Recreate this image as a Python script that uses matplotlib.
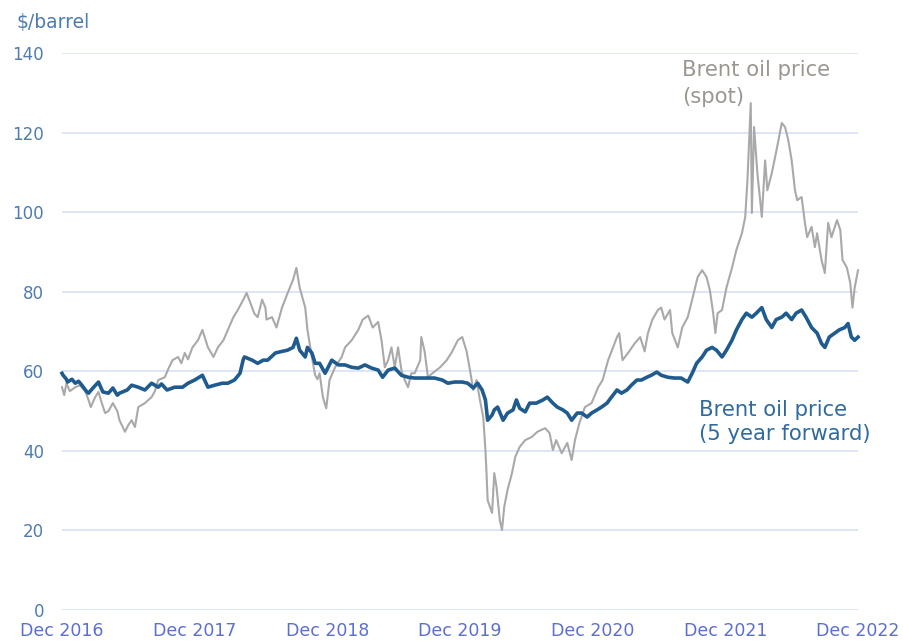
import matplotlib
matplotlib.use("Agg")
import matplotlib.pyplot as plt

# x values: months since Dec 2016
spot_month = [0.0, 0.2, 0.4, 0.7, 1.2, 1.6, 2.1, 2.4, 2.6, 3.0, 3.3, 3.6, 3.9, 4.2, 4.6, 5.0, 5.2, 5.7, 6.0, 6.3,
              6.6, 6.9, 7.5, 8.1, 8.4, 8.7, 9.3, 9.6, 10.0, 10.5, 10.8, 11.1, 11.4, 11.8, 12.3, 12.7, 13.2, 13.7,
              14.1, 14.6, 15.0, 15.5, 15.9, 16.4, 16.7, 17.2, 17.4, 17.7, 18.1, 18.4, 18.5, 19.0, 19.4, 19.9,
              20.4, 20.9, 21.2, 21.5, 22.0, 22.2, 22.6, 22.9, 23.1, 23.3, 23.6, 23.9, 24.2, 24.7, 25.3, 25.6,
              26.2, 26.8, 27.2, 27.7, 28.1, 28.6, 28.9, 29.2, 29.5, 29.8, 30.1, 30.4, 30.7, 31.0, 31.3, 31.6,
              31.9, 32.4, 32.5, 32.8, 33.1, 33.5, 34.2, 34.8, 35.3, 35.8, 36.2, 36.6, 36.9, 37.2, 37.5, 37.8,
              38.1, 38.3, 38.4, 38.5, 38.9, 39.1, 39.3, 39.6, 39.8, 40.0, 40.3, 40.7, 41.0, 41.4, 41.9, 42.5,
              43.0, 43.7, 44.1, 44.4, 44.7, 45.2, 45.7, 46.1, 46.4, 46.8, 47.3, 47.9, 48.5, 48.9, 49.4, 49.7,
              50.2, 50.4, 50.7, 51.2, 51.8, 52.3, 52.7, 53.0, 53.4, 53.9, 54.2, 54.5, 55.0, 55.2, 55.7, 56.1,
              56.6, 57.0, 57.5, 57.9, 58.3, 58.6, 58.9, 59.1, 59.3, 59.7, 60.1, 60.6, 61.0, 61.5, 61.8, 62.0,
              62.3, 62.4, 62.6, 62.9, 63.3, 63.6, 63.8, 64.2, 64.5, 64.8, 65.1, 65.4, 65.7, 66.0, 66.3, 66.5,
              66.9, 67.2, 67.4, 67.8, 68.1, 68.3, 68.7, 69.0, 69.3, 69.6, 70.1, 70.4, 70.6, 71.0, 71.3, 71.5,
              71.7, 72.0]
spot_price = [56, 54, 57, 55, 56, 56.5, 55, 52.8, 51, 53.5, 54.8, 52, 49.5, 50, 52, 50, 47.7, 44.8, 46.5, 47.7,
              46, 51, 52, 53.5, 55, 57.8, 58.5, 60.5, 62.8, 63.6, 62, 64.6, 63, 66, 67.8, 70.4, 66, 63.6,
              66, 67.8, 70.4, 73.6, 75.4, 78, 79.7, 76, 74.5, 73.6, 78, 76, 73, 73.6, 71, 76,
              79.6, 83, 86, 81, 76, 70.4, 63.6, 59, 58, 59.5, 53.5, 50.7, 57.8, 61, 63.6, 66,
              67.8, 70.4, 73, 74, 71, 72.4, 67.8, 61, 62.8, 66, 61, 66, 60.3, 57.8, 56, 59.5,
              59.5, 62.8, 68.6, 65, 58.5, 59.5, 61, 62.8, 65, 67.8, 68.6, 65, 60.3, 55.3, 57.8, 52.8,
              48.5, 40.2, 34.4, 27.6, 24.4, 34.4, 31, 22.6, 20.1, 25.9, 30.2, 34.4, 38.5, 41, 42.7, 43.5,
              44.8, 45.7, 44.5, 40.2, 42.7, 39.4, 42, 37.7, 42.7, 47, 51, 52, 56, 57.8, 62.8, 65,
              68.6, 69.6, 62.8, 64.6, 67, 68.6, 65, 69.6, 73, 75.4, 76, 73, 75.4, 69.6, 66, 71,
              73.6, 78, 83.7, 85.4, 83.7, 80.4, 74.6, 69.6, 74.6, 75.4, 81, 86, 90.5, 94.7, 98.8, 108,
              127.4, 99.8, 121.4, 109.8, 98.8, 113, 105.5, 109.8, 113.8, 118, 122.4, 121.4, 118, 113, 105.5, 103,
              103.8, 97.3, 93.7, 96.3, 91.2, 94.7, 88, 84.7, 97.3, 93.7, 98, 95.5, 88, 86, 82.2, 76,
              81, 85.4]

fwd_month = [0.0, 0.1, 0.4, 0.5, 0.9, 1.2, 1.5, 1.8, 2.2, 2.4, 2.8, 3.3, 3.5, 3.7, 4.2, 4.6, 5.0, 5.2, 5.9, 6.3,
             6.9, 7.5, 8.1, 8.7, 9.0, 9.5, 10.2, 10.9, 11.4, 12.0, 12.7, 13.2, 13.8, 14.5, 15.0, 15.6, 16.1,
             16.4, 16.5, 17.2, 17.7, 18.2, 18.6, 19.3, 19.9, 20.4, 20.9, 21.2, 21.5, 22.0, 22.2, 22.6, 22.9,
             23.3, 23.8, 24.4, 25.0, 25.6, 26.2, 26.8, 27.4, 28.0, 28.6, 29.0, 29.5, 30.1, 30.7, 31.3, 31.9,
             32.5, 33.1, 33.7, 34.4, 34.9, 35.5, 36.2, 36.7, 37.2, 37.6, 38.0, 38.3, 38.5, 38.9, 39.1, 39.4,
             39.9, 40.3, 40.8, 41.1, 41.4, 41.9, 42.3, 42.9, 43.5, 43.9, 44.4, 44.8, 45.3, 45.7, 46.1, 46.6,
             47.0, 47.5, 47.9, 48.4, 48.8, 49.3, 49.7, 50.2, 50.6, 51.1, 51.5, 52.0, 52.4, 52.9, 53.3, 53.8,
             54.2, 54.8, 55.4, 56.0, 56.6, 57.0, 57.4, 57.9, 58.3, 58.8, 59.2, 59.7, 60.1, 60.6, 61.0, 61.5,
             61.9, 62.4, 62.8, 63.3, 63.7, 64.2, 64.6, 65.1, 65.5, 66.0, 66.4, 66.9, 67.3, 67.8, 68.3, 68.7,
             69.0, 69.4, 69.9, 70.3, 70.8, 71.1, 71.4, 71.7, 72.0]
fwd_price = [59.5, 59, 58, 57.3, 58, 57, 57.5, 56.5, 55, 54.5, 55.8, 57.3, 56, 54.8, 54.5, 55.8, 54, 54.5, 55.3, 56.5,
             56, 55.3, 57, 56, 56.8, 55.3, 56, 56, 57, 57.8, 59, 56, 56.5, 57, 57, 57.8, 59.5,
             63, 63.6, 62.8, 62, 62.8, 62.8, 64.6, 65, 65.3, 66, 68.3, 65.3, 63.6, 66, 64.6, 62,
             62, 59.5, 62.8, 61.6, 61.6, 61, 60.8, 61.6, 60.8, 60.3, 58.5, 60.3, 60.8, 59, 58.5, 58.3,
             58.3, 58.3, 58.3, 57.8, 57, 57.3, 57.3, 57, 55.8, 57, 55.3, 52.8, 47.7, 49, 50.3, 51,
             47.7, 49.5, 50.3, 52.8, 50.7, 49.8, 52, 52, 52.8, 53.5, 52, 51, 50.3, 49.5, 47.7, 49.5,
             49.5, 48.5, 49.5, 50.3, 51, 52, 53.5, 55.3, 54.5, 55.3, 56.5, 57.8, 57.8, 58.5, 59, 59.8,
             59, 58.5, 58.3, 58.3, 57.3, 59.5, 62, 63.6, 65.3, 66, 65.3, 63.6, 65.3, 67.8, 70.4, 73,
             74.6, 73.6, 74.6, 76, 73, 71, 73, 73.6, 74.6, 73, 74.6, 75.4, 73.6, 71, 69.6, 67,
             66, 68.6, 69.6, 70.4, 71, 72, 68.6, 67.8, 68.6]

tick_months = [0, 12, 24, 36, 48, 60, 72]
tick_labels = ["Dec 2016", "Dec 2017", "Dec 2018", "Dec 2019", "Dec 2020", "Dec 2021", "Dec 2022"]
y_ticks = [0, 20, 40, 60, 80, 100, 120, 140]

plt.rcParams['font.family'] = ['DejaVu Sans']

fig = plt.figure(figsize=(9.04, 6.44), dpi=100)
ax = fig.add_axes([62/904, 34/644, 796/904, 557/644])

for s in ax.spines.values():
    s.set_visible(False)

ax.set_xlim(0, 72)
ax.set_ylim(0, 140)
ax.set_yticks(y_ticks)
ax.set_xticks(tick_months)
ax.set_xticklabels(tick_labels)
ax.grid(axis='y', color='#dbe3f3', linewidth=1.3)
ax.set_axisbelow(True)
ax.tick_params(axis='both', length=0)
ax.tick_params(axis='y', labelsize=12, labelcolor='#4f7cb0', pad=13)
ax.tick_params(axis='x', labelsize=12.5, labelcolor='#5b6fd3', pad=9)

ax.plot(spot_month, spot_price, color='#a9a9a9', linewidth=1.5, clip_on=False, zorder=2)
ax.plot(fwd_month, fwd_price, color='#1f5b8e', linewidth=2.6, clip_on=False, zorder=3)

fig.text(17/904, 1 - 28/644, "$/barrel", fontsize=13.5, color='#4f7cb0', ha='left', va='baseline')

label_size = 15.2
ax.text(56.1, 134.2, "Brent oil price", fontsize=label_size, color='#9c9690', ha='left', va='baseline')
ax.text(56.1, 127.4, "(spot)", fontsize=label_size, color='#9c9690', ha='left', va='baseline')
ax.text(57.6, 48.75, "Brent oil price", fontsize=label_size, color='#2e6a9e', ha='left', va='baseline')
ax.text(57.6, 42.7, "(5 year forward)", fontsize=label_size, color='#2e6a9e', ha='left', va='baseline')

fig.savefig("out.png", dpi=100)
